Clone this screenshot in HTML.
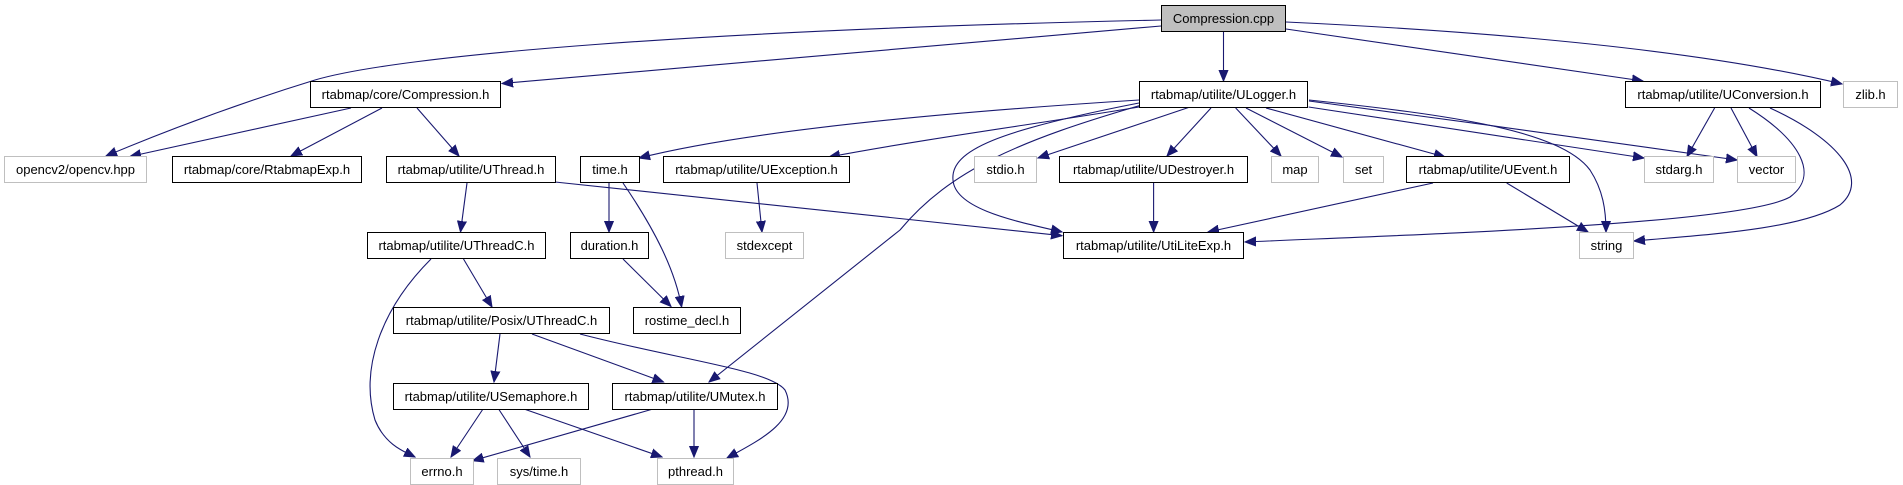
<!DOCTYPE html>
<html><head><meta charset="utf-8"><style>html,body{margin:0;padding:0;background:#fff}svg{display:block}</style></head><body>
<svg width="1903" height="485" viewBox="0 0 1903 485" xmlns="http://www.w3.org/2000/svg">
<defs><marker id="a" markerUnits="userSpaceOnUse" markerWidth="12" markerHeight="10" refX="11" refY="5" orient="auto"><path d="M0,0.5 L11,5 L0,9.5 Z" fill="#191970" stroke="#191970"/></marker></defs>
<g fill="none" stroke="#191970" stroke-width="1.1" marker-end="url(#a)">
<path d="M1161,20 C700,30 400,55 315,80 C250,100 180,125 106,156"/>
<path d="M1161,26 L502,83.5"/>
<path d="M1223.5,32 L1223.5,81"/>
<path d="M1286,29 L1643,81"/>
<path d="M1286,22 C1500,32 1700,50 1842,84"/>
<path d="M351,108 L130,156.5"/>
<path d="M382,108 L291,156"/>
<path d="M417,108 L459,156"/>
<path d="M467,183 L460.5,232"/>
<path d="M555,182 L1062,235.7"/>
<path d="M463.5,259 L492,307"/>
<path d="M431,259 C380,310 360,370 375,420 C385,445 405,452 415,457"/>
<path d="M500,334 L494,382"/>
<path d="M532,334 L663.5,382"/>
<path d="M580,334 C680,360 770,370 785,390 C800,420 760,440 727,458"/>
<path d="M483,409 L451,457"/>
<path d="M498.6,409 L530,457"/>
<path d="M524,409 L662,457"/>
<path d="M653,409 L472.6,460.7"/>
<path d="M694,409 L694,457"/>
<path d="M609,183 L609,232"/>
<path d="M623,183 C655,230 675,270 681.6,307"/>
<path d="M623,259 L671,306.5"/>
<path d="M757,183 L762,232"/>
<path d="M1139,100 C950,112 750,130 639,158"/>
<path d="M1139,107 C1050,122 930,138 829,157"/>
<path d="M1145,104 C1020,140 950,170 900,230 L709,382"/>
<path d="M1139,103 C1000,130 950,150 953,180 C955,210 1020,222 1062,232"/>
<path d="M1190,107 L1038,158"/>
<path d="M1211,108 L1167,156"/>
<path d="M1235.7,108 L1281,156"/>
<path d="M1246,108 L1342,157"/>
<path d="M1266,108 L1445,157"/>
<path d="M1308.6,107 L1644,158"/>
<path d="M1309,101 C1450,120 1600,140 1737,160"/>
<path d="M1309,100 C1450,115 1560,130 1590,170 C1603,190 1606,210 1606,232"/>
<path d="M1153.6,183 L1153.6,232"/>
<path d="M1433,183 L1208,232"/>
<path d="M1506.7,183 L1588,232"/>
<path d="M1714.6,108 L1687,156.6"/>
<path d="M1731,108 L1757,156.6"/>
<path d="M1749,108 C1800,140 1820,175 1790,197 C1740,225 1400,235 1245,242"/>
<path d="M1770,108 C1840,140 1870,180 1840,205 C1800,230 1700,235 1634,241"/>
</g>
<g font-family="Liberation Sans, sans-serif" font-size="13" text-anchor="middle">
<g stroke="#000" stroke-width="1">
<rect x="1161.5" y="5.5" width="124" height="26" fill="#bfbfbf"/>
<rect x="310.5" y="81.5" width="190" height="26" fill="#fff"/>
<rect x="1139.5" y="81.5" width="168" height="26" fill="#fff"/>
<rect x="1625.5" y="81.5" width="195" height="26" fill="#fff"/>
<rect x="172.5" y="156.5" width="189" height="26" fill="#fff"/>
<rect x="386.5" y="156.5" width="169" height="26" fill="#fff"/>
<rect x="580.5" y="156.5" width="59" height="26" fill="#fff"/>
<rect x="663.5" y="156.5" width="186" height="26" fill="#fff"/>
<rect x="1059.5" y="156.5" width="188" height="26" fill="#fff"/>
<rect x="1406.5" y="156.5" width="163" height="26" fill="#fff"/>
<rect x="367.5" y="232.5" width="178" height="26" fill="#fff"/>
<rect x="570.5" y="232.5" width="78" height="26" fill="#fff"/>
<rect x="1063.5" y="232.5" width="180" height="26" fill="#fff"/>
<rect x="393.5" y="307.5" width="216" height="26" fill="#fff"/>
<rect x="633.5" y="307.5" width="107" height="26" fill="#fff"/>
<rect x="393.5" y="383.5" width="195" height="26" fill="#fff"/>
<rect x="612.5" y="383.5" width="165" height="26" fill="#fff"/>
</g>
<g stroke="#bfbfbf" stroke-width="1" fill="#fff">
<rect x="4.5" y="156.5" width="142" height="26"/>
<rect x="1843.5" y="81.5" width="54" height="26"/>
<rect x="974.5" y="156.5" width="62" height="26"/>
<rect x="1271.5" y="156.5" width="47" height="26"/>
<rect x="1343.5" y="156.5" width="40" height="26"/>
<rect x="1644.5" y="156.5" width="69" height="26"/>
<rect x="1737.5" y="156.5" width="58" height="26"/>
<rect x="725.5" y="232.5" width="78" height="26"/>
<rect x="1579.5" y="232.5" width="54" height="26"/>
<rect x="410.5" y="458.5" width="63" height="26"/>
<rect x="497.5" y="458.5" width="83" height="26"/>
<rect x="657.5" y="458.5" width="76" height="26"/>
</g>
<g fill="#000">
<text x="1223.5" y="23">Compression.cpp</text>
<text x="405.5" y="99">rtabmap/core/Compression.h</text>
<text x="1223.5" y="99">rtabmap/utilite/ULogger.h</text>
<text x="1723" y="99">rtabmap/utilite/UConversion.h</text>
<text x="1870.5" y="99">zlib.h</text>
<text x="75.5" y="174">opencv2/opencv.hpp</text>
<text x="267" y="174">rtabmap/core/RtabmapExp.h</text>
<text x="471" y="174">rtabmap/utilite/UThread.h</text>
<text x="610" y="174">time.h</text>
<text x="756.5" y="174">rtabmap/utilite/UException.h</text>
<text x="1005.5" y="174">stdio.h</text>
<text x="1153.5" y="174">rtabmap/utilite/UDestroyer.h</text>
<text x="1295" y="174">map</text>
<text x="1363.5" y="174">set</text>
<text x="1488" y="174">rtabmap/utilite/UEvent.h</text>
<text x="1679" y="174">stdarg.h</text>
<text x="1766.5" y="174">vector</text>
<text x="456.5" y="250">rtabmap/utilite/UThreadC.h</text>
<text x="609.5" y="250">duration.h</text>
<text x="764.5" y="250">stdexcept</text>
<text x="1153.5" y="250">rtabmap/utilite/UtiLiteExp.h</text>
<text x="1606.5" y="250">string</text>
<text x="501.5" y="325">rtabmap/utilite/Posix/UThreadC.h</text>
<text x="687" y="325">rostime_decl.h</text>
<text x="491" y="401">rtabmap/utilite/USemaphore.h</text>
<text x="695" y="401">rtabmap/utilite/UMutex.h</text>
<text x="442" y="476">errno.h</text>
<text x="539" y="476">sys/time.h</text>
<text x="695.5" y="476">pthread.h</text>
</g>
</g>
</svg>
</body></html>
